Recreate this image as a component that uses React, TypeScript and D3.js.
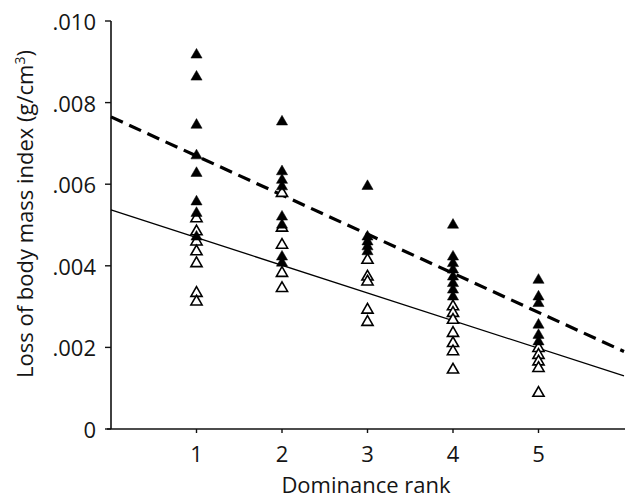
import React from "react";
import * as d3 from "d3";

const ranks = [1, 2, 3, 4, 5];
const yTicks = [0, 0.002, 0.004, 0.006, 0.008, 0.01];
const yTickLabels = ["0", ".002", ".004", ".006", ".008", ".010"];

// values in units of 0.001 g/cm3
const filledValues = [
  [9.17, 8.63, 7.45, 6.7, 6.27, 5.57, 5.29, 4.71],
  [7.53, 6.31, 6.1, 5.94, 5.2, 5.0, 4.22, 4.07],
  [5.95, 4.71, 4.59, 4.47, 4.35],
  [5.0, 4.22, 4.06, 3.9, 3.73, 3.57, 3.41, 3.24],
  [3.65, 3.24, 3.08, 2.55, 2.3, 2.14],
];
const openValues = [
  [5.16, 4.84, 4.59, 4.35, 4.06, 3.33, 3.12],
  [5.78, 4.93, 4.51, 3.82, 3.45],
  [4.14, 3.73, 3.61, 2.92, 2.62],
  [3.0, 2.84, 2.67, 2.35, 2.1, 1.9, 1.45],
  [1.98, 1.81, 1.65, 1.49, 0.88],
];
// regression lines: [value at rank 0, value at rank 6]
const dashedLine = [7.65, 1.9];
const solidLine = [5.37, 1.3];

const FONT = "'Open Sans', 'Noto Sans', sans-serif";

export default function App() {
  const W = 625;
  const H = 499;
  const x = d3.scaleLinear().domain([0, 6]).range([111, 624]);
  const y = d3.scaleLinear().domain([0, 0.01]).range([429, 21]);
  const tri = d3.symbol(d3.symbolTriangle, 54)();
  const line = d3
    .line<[number, number]>()
    .x((d) => x(d[0]))
    .y((d) => y(d[1] / 1000));

  const openPts: [number, number][] = [];
  openValues.forEach((vals, i) => vals.forEach((v) => openPts.push([ranks[i], v])));
  const filledPts: [number, number][] = [];
  filledValues.forEach((vals, i) => vals.forEach((v) => filledPts.push([ranks[i], v])));

  const txt = "#151515";

  return (
    <svg width={W} height={H} style={{ position: "absolute", left: 0, top: 0, background: "#fff" }}>
      {/* y axis */}
      <line x1={x(0)} x2={x(0)} y1={y(0.01)} y2={y(0)} stroke="#111" strokeWidth={1.6} />
      {yTicks.map((t, i) => (
        <g key={i}>
          <line x1={x(0) - 6} x2={x(0)} y1={y(t)} y2={y(t)} stroke="#111" strokeWidth={1.4} />
          <text
            x={96}
            y={y(t)}
            textAnchor="end"
            dominantBaseline="central"
            fontFamily={FONT}
            fontSize={22}
            fill={txt}
          >
            {yTickLabels[i]}
          </text>
        </g>
      ))}
      {/* x axis */}
      <line x1={x(0) - 4} x2={W} y1={y(0)} y2={y(0)} stroke="#111" strokeWidth={1.6} />
      {ranks.map((r) => (
        <g key={r}>
          <line x1={x(r)} x2={x(r)} y1={y(0)} y2={y(0) + 4} stroke="#111" strokeWidth={1.4} />
          <text x={x(r)} y={462} textAnchor="middle" fontFamily={FONT} fontSize={22} fill={txt}>
            {r}
          </text>
        </g>
      ))}
      <text x={366} y={493} textAnchor="middle" fontFamily={FONT} fontSize={22} fill={txt}>
        Dominance rank
      </text>
      <text
        transform={`translate(33,214) rotate(-90)`}
        textAnchor="middle"
        fontFamily={FONT}
        fontSize={22}
        fill={txt}
      >
        Loss of body mass index (g/cm
        <tspan dy={-8} fontSize={14}>3</tspan>
        <tspan dy={8}>)</tspan>
      </text>
      {/* regression lines */}
      <path
        d={line([
          [0, dashedLine[0]],
          [6, dashedLine[1]],
        ]) || ""}
        stroke="#000"
        strokeWidth={3.2}
        strokeDasharray="13 7"
        fill="none"
      />
      <path
        d={line([
          [0, solidLine[0]],
          [6, solidLine[1]],
        ]) || ""}
        stroke="#000"
        strokeWidth={1.3}
        fill="none"
      />
      {/* points */}
      {openPts.map((p, i) => (
        <path
          key={"o" + i}
          d={tri}
          transform={`translate(${x(p[0])},${y(p[1] / 1000)})`}
          fill="#fff"
          stroke="#000"
          strokeWidth={1.6}
        />
      ))}
      {filledPts.map((p, i) => (
        <path
          key={"f" + i}
          d={tri}
          transform={`translate(${x(p[0])},${y(p[1] / 1000)})`}
          fill="#000"
          stroke="#000"
          strokeWidth={0.5}
        />
      ))}
    </svg>
  );
}
